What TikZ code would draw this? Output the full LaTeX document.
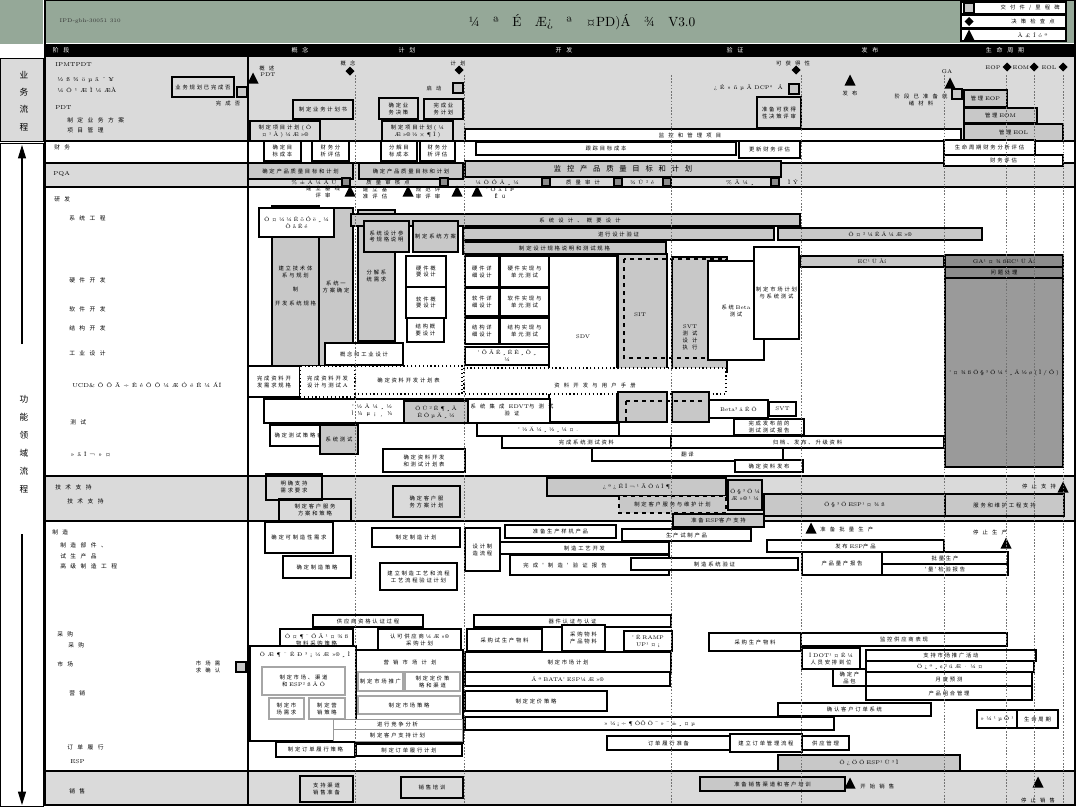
\documentclass[tikz,border=0pt]{standalone}
\usepackage{fontspec}
\newfontfamily\cjk[WordSpace=3.5]{Noto Sans CJK SC}
\usetikzlibrary{arrows.meta}
\definecolor{hdr}{HTML}{95A898}
\definecolor{lg}{HTML}{DADADA}
\definecolor{mg}{HTML}{C8C8C8}
\definecolor{dg}{HTML}{8C8C8C}
\definecolor{dgb}{HTML}{9A9A9A}
\newcommand\lat{\rmfamily}
\newcounter{bn}
\newcommand\Bx[6][]{\stepcounter{bn}%
  \pgfmathsetmacro\tw{max(((#4)-(#2))*0.75-2.5,3)}%
  \draw[bx,#1] (#2,#3) rectangle (#4,#5);%
  \node[txt,text width=\tw pt] (b\thebn) at ({((#2)+(#4))/2},{((#3)+(#5))/2}) {#6};}
\newcommand\Tx[4][]{\stepcounter{bn}\node[txt,#1] (t\thebn) at (#2,#3) {#4};}
\newcommand\Lb[3]{\stepcounter{bn}\node[lbl] (l\thebn) at (#1,#2) {#3};}
\newcommand\Trg[2]{\fill (#1-5.5,#2+5.5) -- (#1+5.5,#2+5.5) -- (#1,#2-5.5) -- cycle;}
\newcommand\Dmd[2]{\fill (#1,#2-4.5) -- (#1+4.5,#2) -- (#1,#2+4.5) -- (#1-4.5,#2) -- cycle;}
\newcommand\Sqr[2]{\draw[fill=mg,line width=0.8pt] (#1-5,#2-5) rectangle (#1+5,#2+5);}
\begin{document}
\begin{tikzpicture}[x=0.75pt,y=-0.75pt,
  bx/.style={draw=black,line width=0.9pt,fill=white},
  txt/.style={font=\cjk\fontsize{4}{5.2}\selectfont,align=center,inner sep=0pt},
  lbl/.style={font=\cjk\fontsize{4.3}{5.2}\selectfont,anchor=west,inner sep=0pt},
  dl/.style={black!55,line width=0.5pt,dash pattern=on 1.2pt off 1.2pt},
  ph/.style={font=\cjk\fontsize{4.5}{5}\selectfont,text=white,inner sep=0pt}]
\useasboundingbox (0,0) rectangle (1080,808);
% ---------- header ----------
\fill[hdr] (0,0) rectangle (43,44);
\fill[hdr] (45,0) rectangle (1075,43);
\draw[line width=0.8pt] (45,0.5) -- (1075,0.5);
\node[font=\rmfamily\fontsize{4}{5}\selectfont,anchor=west,text=black!80] (code) at (55,21) {IPD-gbh-30051 310};
\node[font=\rmfamily\fontsize{10}{12}\selectfont] (title) at (582,22) {¼\quad ª\quad É\quad Æ¿\quad ª\quad ¤PD)Á\quad ¾\quad V3.0};
\Bx{961}{2}{1066}{14}{}\Sqr{969}{8}
\Bx{961}{15}{1066}{28}{}\Dmd{969}{21.5}
\Bx{961}{29}{1066}{41}{}\Trg{969}{35}
\Tx[anchor=east]{1060}{8}{交 付 件 / 里 程 碑}
\Tx[anchor=east]{1055}{21.5}{决 策 检 查 点}
\Tx[anchor=east]{1048}{35}{\lat À £ Í ó ª}
% ---------- phase band ----------
\fill (45,44) rectangle (1075,57);
\node[ph] (p0) at (61,50.5) {阶 段};
\node[ph] (p1) at (300,50.5) {概 念};
\node[ph] (p2) at (407,50.5) {计 划};
\node[ph] (p3) at (564,50.5) {开 发};
\node[ph] (p4) at (735,50.5) {验 证};
\node[ph] (p5) at (870,50.5) {发 布};
\node[ph] (p6) at (1005,50.5) {生 命 周 期};
% ---------- rows ----------
\fill[lg] (45,57) rectangle (1075,141);
\fill[lg] (45,163) rectangle (1075,187);
\fill[lg] (45,476) rectangle (1075,521);
\fill[lg] (45,771) rectangle (1075,806);
\foreach \yy in {141,163,187,476,521,771} \draw[line width=0.8pt] (45,\yy) -- (1075,\yy);
\draw[line width=0.8pt] (248,57) -- (248,806);
% ---------- sidebar ----------
\fill[lg] (0,58) rectangle (43,141);
\draw[line width=0.6pt] (0,58) rectangle (43,141);
\draw[line width=0.6pt] (0,143) rectangle (43,806);
\node[font=\cjk\fontsize{6.5}{13}\selectfont,align=center] (sb1) at (24,101) {业\\务\\流\\程};
\node[font=\cjk\fontsize{6.5}{13.5}\selectfont,align=center] (sb2) at (24,444) {功\\能\\领\\域\\流\\程};
\coordinate (a1) at (22,344); \coordinate (a1t) at (22,145);
\coordinate (a2) at (22,534); \coordinate (a2t) at (22,805);
\draw[line width=0.8pt,-{Triangle[length=10pt,width=6pt]}] (a1) -- (a1t);
\draw[line width=0.8pt,-{Triangle[length=10pt,width=6pt]}] (a2) -- (a2t);
% ---------- left labels ----------
\Lb{55}{65}{\lat IPMTPDT}
\Lb{57}{80}{\lat ½ ß ¾ ö µ ã ´ ¥}
\Lb{57}{90}{\lat ¼ Ö ¹ Æ Ì ¼ ÆÀ}
\Lb{55}{108}{\lat PDT}
\Lb{67}{120}{制 定 业 务 方 案}
\Lb{67}{130}{项 目 管 理}
\Lb{54}{147}{财 务}
\Lb{53}{174}{\lat PQA}
\Lb{54}{199}{研 发}
\Lb{69}{218}{系 统 工 程}
\Lb{69}{280}{硬 件 开 发}
\Lb{69}{309}{软 件 开 发}
\Lb{69}{328}{结 构 开 发}
\Lb{69}{353}{工 业 设 计}
\Lb{72}{385}{\lat UCD\& Õ Õ Ã ÷ Ê é Õ Õ ¼ Æ Ó ë Ê ¼ ÁÏ}
\Lb{70}{422}{测 试}
\Lb{70}{454}{\lat » ã Î ¬ » ¤}
\Lb{55}{487}{技 术 支 持}
\Lb{67}{501}{技 术 支 持}
\Lb{52}{532}{制 造}
\Lb{60}{545}{制 造 部 件 、}
\Lb{60}{556}{试 生 产 品}
\Lb{60}{566}{高 级 制 造 工 程}
\Lb{57}{634}{采 购}
\Lb{68}{645}{采 购}
\Lb{57}{664}{市 场}
\Lb{69}{693}{营 销}
\Lb{67}{747}{订 单 履 行}
\Lb{70}{762}{\lat ESP}
\Lb{69}{791}{销 售}
% ---------- business row ----------
\Bx[fill=none]{172}{77}{234}{97}{业 务 规 划 已 完 成 否}
\Sqr{242}{92}
\Tx{228}{103}{完 成 否}
\Trg{253}{78}
\Tx[anchor=west]{259}{68}{概 述}
\Tx[anchor=west]{260}{75}{\lat PDT}
\Dmd{350}{71}\Tx{348}{63}{概 念}
\Dmd{459}{70}\Tx{458}{63}{计 划}
\Tx{434}{88}{启 动}\Sqr{458}{88}
\Bx[fill=none]{293}{100}{353}{119}{制 定 业 务 计 划 书}
\Bx[fill=none]{250}{121}{320}{141}{制 定 项 目 计 划 \lat ( Ô ¤ ¹ À ) ¼ Æ »®}
\Bx[fill=none]{379}{98}{418}{119}{确 定 业 务 决 策}
\Bx[fill=none]{424}{99}{463}{119}{完 成 业 务 计 划}
\Bx[fill=none]{382}{121}{453}{141}{制 定 项 目 计 划 \lat ( ¼ Æ »® ½ × ¶ Î )}
\Bx{465}{129}{961}{141}{}\Tx{690}{135}{监 控 和 管 理 项 目}
\Dmd{796}{70}\Tx{793}{63}{可 获 得 性}
\Tx[anchor=east]{783}{88}{\lat ¿ É » ñ µ Ã DCP° \ Á}
\Sqr{794}{89}
\Bx[fill=none]{757}{97}{801}{128}{准 备 可 获 得 性 决 策 评 审}
\Trg{850}{80}\Tx{850}{93}{发 布}
\Tx{921}{100}{阶 段 已 准 备 就 \\ 绪 材 料}
\Trg{950}{83}\Tx{947}{72}{\lat GA}\Sqr{957}{94}
\Dmd{1007}{67}\Dmd{1034}{67}\Dmd{1063}{67}
\Tx{993}{68}{\lat EOP}\Tx{1021}{68}{\lat EOM}\Tx{1049}{68}{\lat EOL}
\Bx[fill=mg]{964}{90}{1007}{107}{管 理 \lat EOP}
\Bx[fill=mg]{964}{108}{1037}{123}{管 理 \lat EOM}
\Bx[fill=mg]{964}{124}{1063}{141}{管 理 \lat EOL}
% ---------- finance ----------
\Bx{264}{141}{301}{161}{确 定 目 标 成 本}
\Bx{312}{141}{349}{161}{财 务 分 析 评 估}
\Bx{381}{141}{417}{161}{分 解 目 标 成 本}
\Bx{420}{141}{455}{161}{财 务 分 析 评 估}
\Bx{476}{142}{736}{155}{跟 踪 目 标 成 本}
\Bx{739}{141}{800}{158}{更 新 财 务 评 估}
\Bx{944}{140}{1035}{155}{生 命 周 期 财 务 分 析 评 估}
\Bx{944}{155}{1063}{166}{财 务 评 估}
% ---------- PQA ----------
\Bx[fill=mg]{248}{163}{353}{179}{确 定 产 品 质 量 目 标 和 计 划}
\Bx[fill=mg]{359}{163}{463}{179}{确 定 产 品 质 量 目 标 和 计 划}
\Bx[fill=mg]{465}{161}{781}{177}{}
\Tx{623}{169}{\fontsize{5.5}{6}\selectfont 监 控 产 品 质 量 目 标 和 计 划}
\foreach \q in {346,444,546,618,667,775} \draw[fill=dg,line width=0.8pt] (\q-4,178) rectangle (\q+4,186);
\Tx{314}{182.5}{\lat \% ± Ã ¼ Å Ú}
\Tx{388}{182.5}{质 量 审 核 点}
\Tx{497}{182.5}{\lat ¼ Ö Ó Â ¸ ¼}
\Tx{583}{182.5}{质 量 审 计}
\Tx{642}{182.5}{\lat ¾ Û ² é}
\Tx{740}{182.5}{\lat \% Ã ¼ ¸}
\Tx{793}{182.5}{\lat Ì Ý}
\Trg{350}{191}\Trg{408}{191}\Trg{457}{191}\Trg{477}{191}
\Tx{323}{192}{建 立 基 线 \\ 评 审}
\Tx{375}{193}{建 立 基 \\ 准 评 估}
\Tx{428}{193}{规 范 评 \\ 审 评 审}
\Tx{500}{193}{\lat ' Ö ä Í Þ \\ Ê ü}
% ---------- R&D ----------
\Bx[fill=mg]{272}{206}{319}{366}{建 立 技 术 体 系 与 规 划 \\[5pt] 制 \\[5pt] 开 发 系 统 规 格}
\Bx[fill=mg]{319}{208}{353}{366}{系 统 一 \\ 方 案 确 定}
\Bx{259}{208}{334}{237}{\lat Ô ¤ ¼ ¼ Ê õ Ó ë ¸ ¼ \\ Ò å Ê é}
\Bx[fill=mg]{358}{210}{395}{341}{分 解 系 统 需 求}
\Bx[fill=mg]{351}{214}{800}{226}{}\Tx{580}{220}{系 统 设 计 、 概 要 设 计}
\Bx[fill=mg]{364}{221}{409}{252}{系 统 设 计 参 考 规 格 说 明}
\Bx[fill=mg]{413}{221}{458}{252}{制 定 系 统 方 案}
\Bx[fill=mg]{463}{228}{774}{240}{进 行 设 计 验 证}
\Bx[fill=mg]{778}{228}{982}{240}{\lat Ö ¤ ² ¼ Ê Ä ¼ Æ »®}
\Bx[fill=mg]{463}{242}{666}{254}{制 定 设 计 规 格 说 明 和 测 试 规 格}
\Bx{406}{256}{446}{287}{硬 件 概 要 设 计}
\Bx{406}{287}{446}{318}{软 件 概 要 设 计}
\Bx{407}{318}{444}{342}{结 构 概 要 设 计}
\Bx{465}{256}{499}{287}{硬 件 详 细 设 计}
\Bx{500}{256}{549}{287}{硬 件 实 现 与 单 元 测 试}
\Bx{465}{288}{499}{316}{软 件 详 细 设 计}
\Bx{500}{288}{549}{316}{软 件 实 现 与 单 元 测 试}
\Bx{465}{318}{499}{344}{结 构 详 细 设 计}
\Bx{500}{318}{549}{344}{结 构 实 现 与 单 元 测 试}
\Bx{465}{347}{549}{365}{\lat ' Õ Ã Ê ¸ Ë Ê ¸ Ò ¸ \\ ¼}
\Bx{549}{256}{617}{422}{}\Tx{583}{337}{\lat SDV}
\Bx[fill=mg]{618}{254}{667}{372}{}
\Bx[fill=mg]{672}{257}{727}{372}{}
\draw[line width=1pt,dashed] (624,259) rectangle (726,358);
\Tx{640}{315}{\lat SIT}
\Tx{690}{337}{\lat SVT\cjk \\ 测 试 \\ 设 计 \\ 执 行}
\Bx{708}{261}{764}{360}{系 统 \lat Beta\cjk \\ 测 试}
\Bx{754}{247}{799}{339}{制 定 市 场 计 划 与 系 统 测 试}
\Bx[fill=mg]{800}{256}{944}{267}{\lat EC¹ Ü Àí}
\Bx[fill=dgb]{945}{278}{1063}{467}{\lat ' ¤ ¾ ß Ö § ³ Ö ¼ ° ¸ Ä ½ ø ( Ì / Ó )}
\Bx[fill=dg]{945}{255}{1063}{267}{\lat GA¹ ¤ ¾ ßEC¹ Ü Àí}
\Bx[fill=dg]{945}{267}{1063}{278}{问 题 处 理}
\Bx{325}{343}{403}{365}{概 念 和 工 业 设 计}
\Bx{248}{366}{300}{397}{完 成 资 料 开 发 需 求 规 格}
\Bx[dotted]{300}{366}{355}{397}{完 成 资 料 开 发 设 计 与 测 试 \lat A}
\Bx[dotted]{355}{366}{462}{394}{确 定 资 料 开 发 计 划 表}
\Bx[dotted]{464}{368}{726}{394}{}\Tx{595}{385}{资 料 开 发 与 用 户 手 册}
\Bx{264}{399}{550}{423}{}
\Tx{372}{410}{\lat ' ½ Ä ¼ ¸ ½ \\ Ì ¼ µ ¡ ¸ ¼}
\Bx[fill=mg,line width=1.2pt]{404}{401}{468}{423}{\lat Ö Ü ² Ê ¶ ¸ Ä \\ Ê Ô µ Ä ¸ ¼}
\Tx{512}{410}{系 统 集 成 \lat EDVT\cjk 与 测 试 \\ 验 证}
\Bx[fill=mg]{618}{392}{667}{422}{}
\Bx[fill=mg]{672}{392}{709}{422}{}
\draw[line width=1pt,dashed] (626,401) -- (705,401) (626,401) -- (626,422) -- (667,422);
\Bx{709}{400}{768}{418}{\lat Beta³ â Ê Ô}
\Bx{769}{402}{796}{416}{\lat SVT}
\Bx{734}{419}{804}{435}{完 成 发 布 前 的 测 试 测 试 报 告}
\Bx{270}{425}{327}{446}{确 定 测 试 策 略 表}
\Bx[fill=mg]{320}{425}{358}{454}{系 统 测 试}
\Bx{477}{423}{619}{436}{\lat ' ½ Ä ¼ ¸ ½ ¸ ¼ ¤ .}
\Bx{502}{436}{671}{448}{完 成 系 统 测 试 资 料}
\Bx{671}{436}{944}{448}{归 档 、 发 布 、 升 级 资 料}
\Bx{383}{449}{465}{472}{确 定 资 料 开 发 和 测 试 计 划 表}
\Bx{592}{448}{783}{461}{翻 译}
\Bx{735}{460}{803}{472}{确 定 资 料 发 布}
% ---------- tech support ----------
\Bx[fill=none]{266}{474}{322}{500}{明 确 支 持 需 求 要 求}
\Bx[fill=none]{279}{499}{351}{521}{制 定 客 户 服 务 方 案 和 策 略}
\Bx[fill=none]{393}{486}{460}{517}{确 定 客 户 服 务 方 案 计 划}
\Bx[fill=mg]{547}{478}{726}{496}{\lat ¿ ª ¿ É Î ¬ ¹ Ã Ô ú Î ¶}
\draw[line width=1.2pt,dashed] (547,478) -- (726,478);
\Bx[fill=mg,dashed]{619}{496}{726}{513}{制 定 客 户 服 务 与 维 护 计 划}
\Bx[fill=mg]{728}{480}{762}{510}{\lat Ö § ³ Ö ¼ Æ »® ¹ ¼}
\Bx[fill=mg]{764}{494}{945}{516}{\lat Ö § ³ Ö ESP¹ ¤ ¾ ß}
\Bx[fill=mg]{945}{494}{1064}{516}{服 务 和 维 护 工 程 支 持}
\Bx[fill=mg]{673}{514}{764}{527}{准 备 \lat ESP\cjk 客 户 支 持}
\Trg{1063}{487}\Tx{1039}{486}{停 止 支 持}
% ---------- manufacturing ----------
\Bx{265}{522}{333}{553}{确 定 可 制 造 性 需 求}
\Bx{283}{556}{351}{578}{确 定 制 造 策 略}
\Bx{372}{528}{460}{547}{制 定 制 造 计 划}
\Bx{380}{563}{457}{590}{建 立 制 造 工 艺 和 流 程 工 艺 流 程 验 证 计 划}
\Bx{465}{528}{500}{571}{设 计 制 造 流 程}
\Bx{505}{525}{616}{538}{准 备 生 产 样 机 产 品}
\Bx{622}{529}{751}{541}{生 产 试 制 产 品}
\Bx{500}{542}{669}{554}{制 造 工 艺 开 发}
\Bx{510}{555}{669}{575}{}\Tx{565}{565}{完 成 ' 制 造 ' 验 证 报 告}
\Bx{631}{558}{798}{570}{制 造 系 统 验 证}
\Bx{767}{540}{944}{552}{发 布 \lat ESP\cjk 产 品}
\Bx{802}{552}{882}{575}{产 品 量 产 报 告}
\Bx{882}{552}{1008}{564}{批 量 生 产}
\Bx{882}{564}{1008}{575}{' 量 ' 检 验 报 告}
\Trg{811}{528}\Tx[anchor=west]{820}{529}{准 备 批 量 生 产}
\Trg{1006}{543}\Tx{990}{532}{停 止 生 产}
% ---------- procurement ----------
\Bx{313}{615}{423}{627}{供 应 商 资 格 认 证 过 程}
\Bx{280}{629}{353}{651}{\lat Ô ¤ ¶ ¨ Ó Ã ¹ ¤ ¾ ß \\ \cjk 物 料 采 购 策 略}
\Bx{378}{629}{461}{650}{认 可 供 应 商 \lat ¼ Æ »® \\ \cjk 采 购 计 划}
\Bx{474}{615}{671}{627}{器 件 认 证 与 认 证}
\Bx{467}{629}{542}{651}{采 购 试 生 产 物 料}
\Bx{562}{625}{605}{651}{采 购 物 料 产 品 物 料}
\Bx{624}{631}{672}{651}{\lat ' Ë RAMP \\ UP¹ ¤ ¡}
\Bx{709}{633}{801}{651}{采 购 生 产 物 料}
\Bx{801}{633}{1007}{646}{监 控 供 应 商 表 现}
% ---------- marketing ----------
\Sqr{241}{667}\Tx{208}{667}{市 场 需 \\ 求 确 认}
\Bx[line width=1.2pt]{250}{646}{356}{741}{}
\Tx{305}{655}{\lat Ö Æ ¶ ¨ Ê Ð ³ ¡ ¼ Æ »® ¸ Ì}
\Bx[draw=black!35]{262}{667}{345}{695}{制 定 市 场 、 渠 道 和 \lat ESP² ß Â Ô}
\Bx[draw=black!35]{269}{698}{304}{719}{制 定 市 场 需 求}
\Bx[draw=black!35]{309}{698}{345}{719}{制 定 营 销 策 略}
\Bx[line width=1.2pt]{356}{650}{463}{743}{}
\Tx{410}{662}{营 销 市 场 计 划}
\Bx[draw=black!35]{358}{672}{403}{691}{制 定 市 场 推 广}
\Bx[draw=black!35]{405}{672}{460}{691}{制 定 定 价 策 略 和 渠 道}
\Bx[draw=black!35]{358}{696}{460}{714}{制 定 市 场 策 略}
\Bx[draw=black!40,line width=0.6pt]{333}{719}{462}{729}{进 行 竞 争 分 析}
\Bx[draw=black!40,line width=0.6pt]{333}{729}{462}{741}{制 定 客 户 支 持 计 划}
\Bx{276}{742}{355}{757}{制 定 订 单 履 行 策 略}
\Bx{356}{744}{462}{756}{制 定 订 单 履 行 计 划}
\Bx{465}{652}{671}{672}{制 定 市 场 计 划}
\Bx{465}{672}{670}{686}{\lat Á ª BATA' ESP¼ Æ »®}
\Bx{465}{691}{607}{711}{制 定 定 价 策 略}
\Bx{465}{717}{834}{730}{\lat » ¼ ¡ ÷ ¶ ÔÕ Ö ¯ » ¯ ± ¸ ¤ µ}
\Bx{607}{736}{730}{750}{订 单 履 行 准 备}
\Bx{730}{734}{802}{752}{建 立 订 单 管 理 流 程}
\Bx{802}{736}{849}{750}{供 应 管 理}
\Bx{802}{648}{860}{669}{\lat Î DOT¹ ¤ Ê ¼ \\ \cjk 人 员 安 排 到 位}
\Bx{833}{669}{866}{686}{确 定 产 品 包}
\Bx{866}{650}{1036}{661}{支 持 市 场 推 广 活 动}
\Bx{866}{661}{1034}{672}{\lat Ö ¿ ª ¸ ¢ ² ú Æ · ¼ ¤}
\Bx{866}{672}{1032}{686}{月 度 预 测}
\Bx{866}{686}{1032}{700}{产 品 组 合 管 理}
\Bx{778}{703}{931}{716}{确 认 客 户 订 单 系 统}
\Bx{977}{710}{1017}{728}{\lat » ¼ ¹ µ Õ ¹}
\Bx{1017}{710}{1058}{728}{生 命 周 期}
\Bx[fill=mg]{778}{755}{960}{771}{\lat Ö ¿ Ö Ö ESP¹ Ü ³ Ì}
% ---------- sales ----------
\Bx[fill=none]{300}{776}{353}{802}{支 持 渠 道 销 售 准 备}
\Bx[fill=none]{401}{777}{463}{798}{销 售 培 训}
\Bx[fill=mg]{700}{777}{845}{791}{准 备 销 售 渠 道 和 客 户 培 训}
\Trg{850}{783}\Tx[anchor=west]{860}{786}{开 始 销 售}
\Trg{1038}{782}\Tx{1038}{800}{停 止 销 售}
% ---------- phase dotted lines ----------
\foreach \xx in {355,464,671,801,944,1006,1034,1063} \draw[dl] (\xx,75) -- (\xx,805);
% ---------- frame ----------
\draw[line width=2.2pt] (45,0) -- (45,806);
\draw[line width=1.5pt] (1075,0) -- (1075,806);
\draw[line width=2.2pt] (45,805) -- (1075,805);
\end{tikzpicture}
\end{document}
